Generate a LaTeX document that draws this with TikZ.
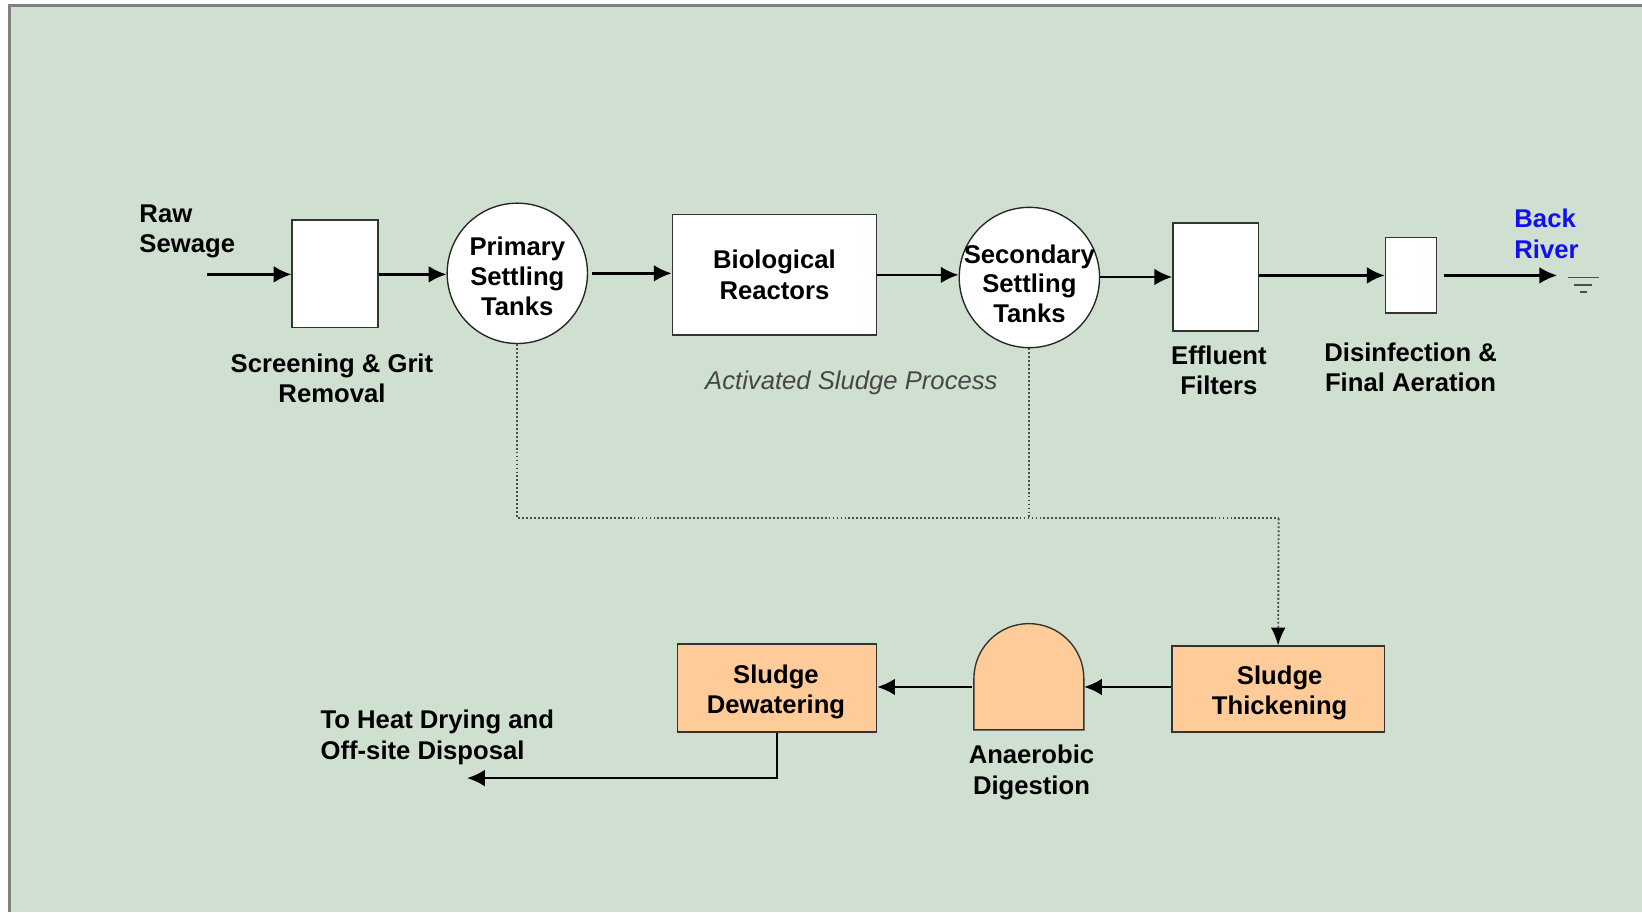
\documentclass[tikz,border=0pt]{standalone}
\usepackage{fontspec}
\setmainfont{Liberation Sans}
\usetikzlibrary{arrows.meta}
\definecolor{bg}{HTML}{CFDFD0}
\definecolor{peach}{HTML}{FFCC99}
\definecolor{riverblue}{HTML}{1010F0}
\definecolor{framegray}{HTML}{808080}
\tikzset{
  lbl/.style={font=\bfseries\fontsize{24.5}{29}\selectfont, align=center, text=black, inner sep=0pt},
  lbll/.style={lbl, align=left},
  unit/.style={draw=black!80, line width=1.3pt, fill=white, inner sep=0pt},
  tank/.style={circle, draw=black!85, line width=1.3pt, fill=white, minimum size=134pt, inner sep=0pt},
  tanklbl/.style={inner sep=0pt, font=\bfseries\fontsize{24.5}{28.5}\selectfont, align=center},
  sludge/.style={draw=black!80, line width=1.3pt, fill=peach, inner sep=0pt,
    font=\bfseries\fontsize{24.5}{29}\selectfont, align=center},
  arr/.style={line width=2.4pt, -{Latex[length=17pt,width=16pt]}},
  sludgeline/.style={draw=black!70, line width=1.8pt, dash pattern=on 1.8pt off 2.0pt},
}
\begin{document}
\begin{tikzpicture}[x=1pt,y=-1pt]
\useasboundingbox (0,0) rectangle (1568,871);
\fill[bg] (9,5) rectangle (1568,871);
\draw[framegray, line width=2.5pt] (9,871) -- (9,5.5) -- (1568,5.5);

% main line
\node[lbll, anchor=north west] (raw) at (133,195) {Raw\\Sewage};
\coordinate (rawin) at (198,262);
\node[unit, minimum width=82pt, minimum height=103pt] (screen) at (320,261.5) {};
\node[lbl] (screenlbl) at (317,361) {Screening \& Grit\\Removal};
\node[tank] (prim) at (494,261) {};
\node[tanklbl] (primlbl) at (494,264) {Primary\\Settling\\Tanks};
\node[unit, minimum width=195pt, minimum height=115pt, font=\bfseries\fontsize{24.5}{29}\selectfont, align=center] (bio) at (739.5,262.5) {Biological\\Reactors};
\node[font=\itshape\fontsize{24.5}{29}\selectfont, text=black!72, inner sep=0pt] (asp) at (813,366) {Activated Sludge Process};
\node[tank] (sec) at (983,265) {};
\node[tanklbl] (seclbl) at (983,271) {Secondary\\Settling\\Tanks};
\node[unit, minimum width=82pt, minimum height=103pt] (eff) at (1161,264.5) {};
\node[lbl] (efflbl) at (1164,353.5) {Effluent\\Filters};
\node[unit, minimum width=49pt, minimum height=72pt] (dis) at (1347.5,263) {};
\node[lbl] (dislbl) at (1347,351) {Disinfection \&\\Final Aeration};
\node[lbll, anchor=north west, text=riverblue] (river) at (1446,199.5) {Back\\River};
\coordinate (riverin) at (1487,263);

\draw[arr] (rawin) -- (rawin -| screen.west);
\draw[arr] (screen.east |- rawin) -- (rawin -| prim.west);
\draw[arr] ([xshift=4pt]prim.east) -- (prim.east -| bio.west);
\draw[arr] (bio.east) -- (bio.east -| sec.west);
\draw[arr] (sec.east |- eff.west) -- (eff.west);
\draw[arr] (eff.east |- dis.west) -- (dis.west);
\draw[arr] ([xshift=6pt]dis.east) -- (riverin);
% ground symbol
\draw[black!70, line width=1.3pt] (1497,265) -- (1527,265) (1503,272) -- (1520,272) (1509,279) -- (1515,279);

% sludge line
\coordinate (junc) at (1221,495);
\node[sludge, minimum width=203pt, minimum height=82pt] (thick) at (1220.5,658) {};
\node[tanklbl] (thicklbl) at (1222,662) {Sludge\\Thickening};
\draw[sludgeline] (prim.south) -- (prim.south |- junc) -- (junc);
\draw[sludgeline] (sec.south) -- (sec.south |- junc);
\draw[sludgeline, -{Latex[length=17pt,width=14pt,color=black]}] (junc) -- (thick.north);

% digester
\draw[draw=black!80, line width=1.3pt, fill=peach] (930,697) -- (930,648) arc[start angle=180, end angle=360, radius=52.5] -- (1035,697) -- cycle;
\node[minimum width=105pt, minimum height=10pt, inner sep=0pt] (dig) at (982.5,656) {};
\node[lbl] (diglbl) at (985,737.5) {Anaerobic\\Digestion};

\node[sludge, minimum width=190pt, minimum height=84pt] (dew) at (742,657) {};
\node[tanklbl] (dewlbl) at (741,661) {Sludge\\Dewatering};
\coordinate (out) at (446,743);
\node[lbll, anchor=north west] (outlbl) at (306,678) {To Heat Drying and\\Off-site Disposal};

\draw[arr] (thick.west |- dig.east) -- (dig.east);
\draw[arr] ([xshift=-2pt]dig.west) -- (dig.west -| dew.east);
\draw[arr, line width=2.2pt] (dew.south) |- (out);
\end{tikzpicture}
\end{document}
